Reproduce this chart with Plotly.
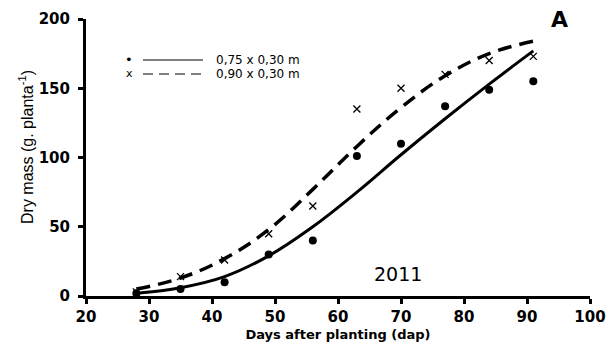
import plotly.graph_objects as go

# Observed data (days after planting)
days = [28, 35, 42, 49, 56, 63, 70, 77, 84, 91]
mass_075 = [2, 5, 10, 30, 40, 101, 110, 137, 149, 155]
mass_090 = [3, 14, 26, 45, 65, 135, 150, 160, 170, 173]

# Fitted curves
fit_days = [28, 35, 42, 49, 56, 63, 70, 77, 84, 91]
fit_075 = [2, 6, 14, 29, 50, 75, 102, 128, 153, 177]
fit_090 = [5, 13, 27, 48, 77, 108, 136, 159, 175, 184]

x_ticks = [20, 30, 40, 50, 60, 70, 80, 90, 100]
y_ticks = [0, 50, 100, 150, 200]

legend_labels = ["0,75 x 0,30 m", "0,90 x 0,30 m"]

fig = go.Figure()
fig.add_trace(go.Scatter(x=fit_days, y=fit_075, mode="lines",
                         line=dict(color="black", width=3, shape="spline", smoothing=1.1),
                         showlegend=False, cliponaxis=False))
fig.add_trace(go.Scatter(x=fit_days, y=fit_090, mode="lines",
                         line=dict(color="black", width=3.5, dash="14px,8px", shape="spline", smoothing=1.1),
                         showlegend=False, cliponaxis=False))
fig.add_trace(go.Scatter(x=days, y=mass_075, mode="markers",
                         marker=dict(symbol="circle", size=8, color="black"),
                         showlegend=False, cliponaxis=False))
fig.add_trace(go.Scatter(x=days, y=mass_090, mode="markers",
                         marker=dict(symbol="x-thin", size=7, color="black",
                                     line=dict(color="black", width=1.3)),
                         showlegend=False, cliponaxis=False))

W, H = 608, 344
ml, mr, mt, mb = 86, 18, 19, 48
pw, ph = W - ml - mr, H - mt - mb

def px(x):
    return (x - ml) / pw

def py(y):
    return 1 - (y - mt) / ph

wide = "DejaVu Sans, Verdana, sans-serif"

# custom legend
rows = [60, 74]
for i, (yy, lab) in enumerate(zip(rows, legend_labels)):
    fig.add_annotation(xref="paper", yref="paper", x=px(214), y=py(yy), text=lab,
                       showarrow=False, xanchor="left", yanchor="middle",
                       font=dict(size=12, family=wide, color="black"))
    fig.add_annotation(xref="paper", yref="paper", x=px(129), y=py(yy - 1),
                       text="•" if i == 0 else "x", showarrow=False,
                       xanchor="center", yanchor="middle",
                       font=dict(size=13 if i == 0 else 11, family=wide, color="black"))
    fig.add_shape(type="line", xref="paper", yref="paper",
                  x0=px(143), x1=px(203), y0=py(yy), y1=py(yy),
                  line=dict(color="black", width=1,
                            dash="solid" if i == 0 else "10px,6px"))

fig.add_annotation(xref="paper", yref="paper", x=px(559), y=py(19), text="<b>A</b>",
                   showarrow=False, xanchor="center", yanchor="middle",
                   font=dict(size=22, family=wide, color="black"))
fig.add_annotation(xref="paper", yref="paper", x=px(398), y=py(274), text="2011",
                   showarrow=False, xanchor="center", yanchor="middle",
                   font=dict(size=19, family=wide, color="black"))
# y-axis title
fig.add_annotation(xref="paper", yref="paper", x=px(26), y=py(147),
                   text="Dry mass (g. planta<sup>-1</sup>)", textangle=-90,
                   showarrow=False, xanchor="center", yanchor="middle",
                   font=dict(size=16, family="Liberation Sans, Arial", color="black"))

fig.update_layout(
    width=W, height=H,
    margin=dict(l=ml, r=mr, t=mt, b=mb, autoexpand=False),
    plot_bgcolor="white", paper_bgcolor="white",
    showlegend=False,
)
fig.update_xaxes(range=[20, 100], tickvals=x_ticks, showgrid=False, zeroline=False,
                 showline=True, linecolor="black", linewidth=3, automargin=False,
                 ticks="outside", ticklen=5, tickwidth=3, tickcolor="black",
                 tickfont=dict(size=15, family=wide, color="black", weight="bold"),
                 title=dict(text="Days after planting (dap)", standoff=5,
                            font=dict(size=13, family=wide, color="black", weight="bold")))
fig.update_yaxes(range=[0, 200], tickvals=y_ticks, showgrid=False, zeroline=False,
                 showline=True, linecolor="black", linewidth=3, automargin=False,
                 ticks="outside", ticklen=5, tickwidth=3, tickcolor="black",
                 ticklabelstandoff=5,
                 tickfont=dict(size=15, family=wide, color="black", weight="bold"))

fig.write_html("out.html")
